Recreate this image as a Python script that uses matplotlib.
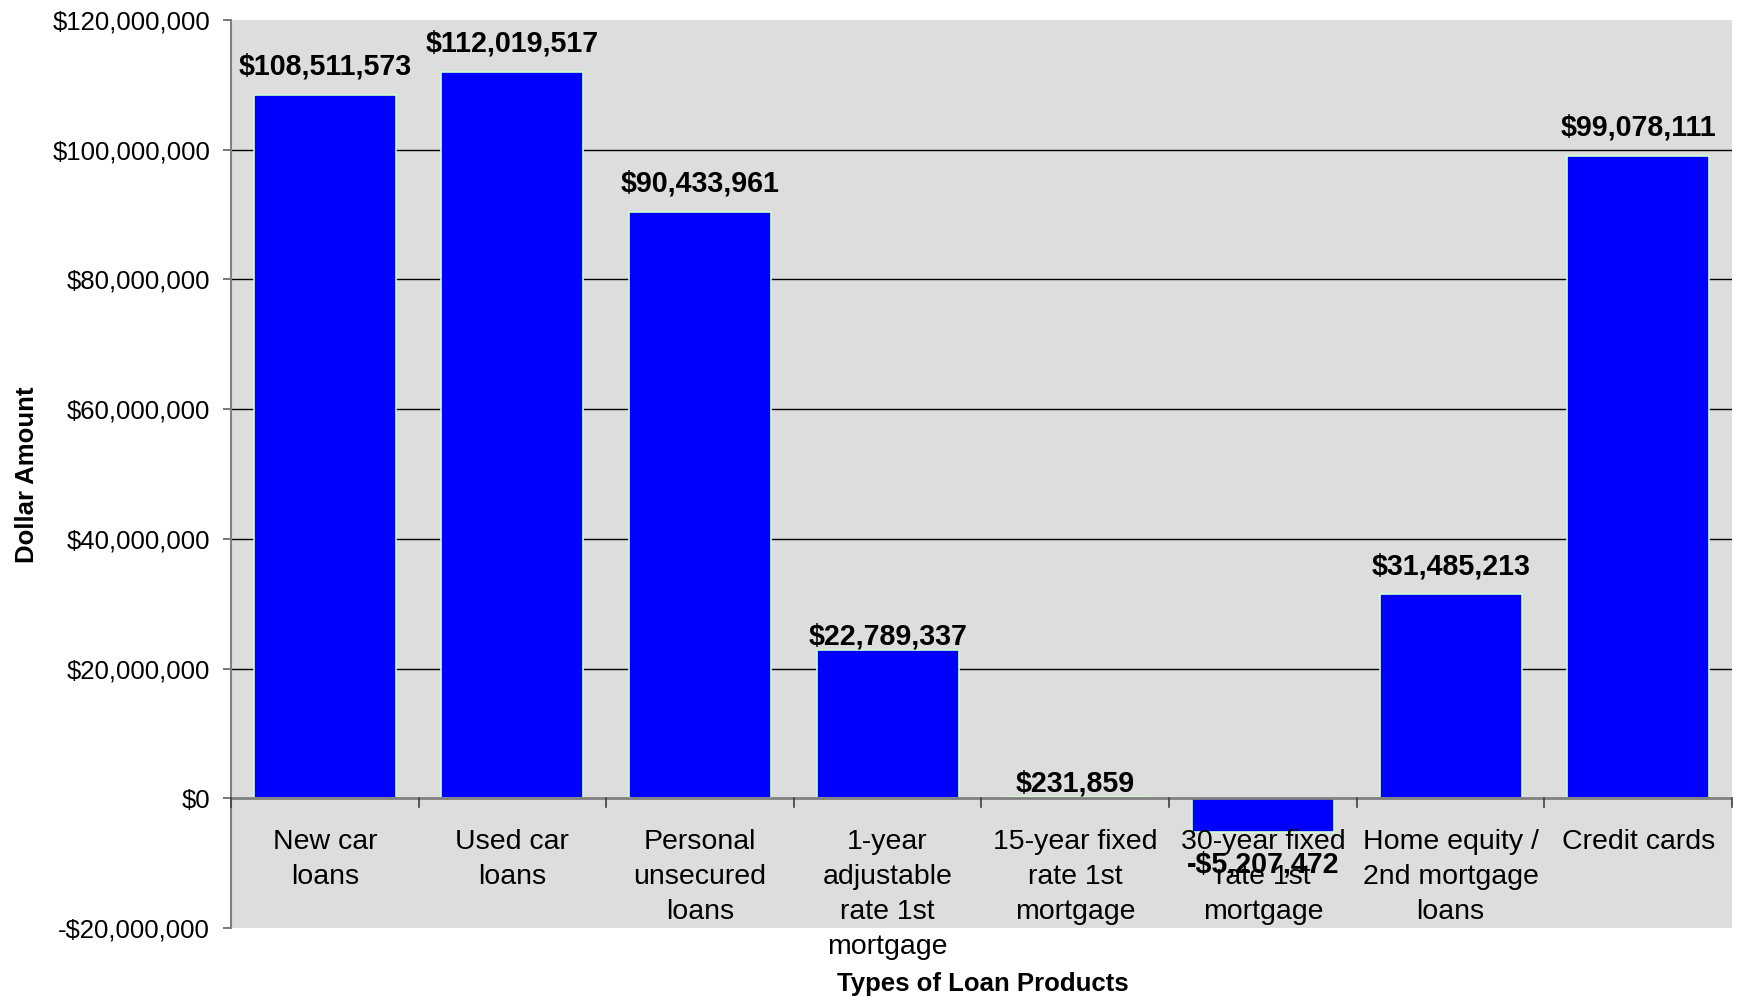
import matplotlib
matplotlib.use('Agg')
import matplotlib.pyplot as plt
from matplotlib.ticker import FuncFormatter, MultipleLocator

plt.rcParams['font.family'] = ['Liberation Sans', 'DejaVu Sans']

# loan products and their dollar amounts
categories = ['New car\nloans', 'Used car\nloans', 'Personal\nunsecured\nloans',
              '1-year\nadjustable\nrate 1st\nmortgage', '15-year fixed\nrate 1st\nmortgage',
              '30-year fixed\nrate 1st\nmortgage', 'Home equity /\n2nd mortgage\nloans',
              'Credit cards']
amounts = [108511573, 112019517, 90433961, 22789337, 231859, -5207472, 31485213, 99078111]

# gap (in pixels) between bar end and its value label
label_gap_px = [20, 20, 20, 6, 5, 20, 20, 20]


def dollars(v, pos=None):
    if v < 0:
        return '-${:,.0f}'.format(-v)
    return '${:,.0f}'.format(v)


fig = plt.figure(figsize=(17.39, 10), dpi=100)
ax = fig.add_axes([0.1328, 0.072, 0.8632, 0.908])
ax.set_facecolor('#dddddd')

x = list(range(len(categories)))
ax.bar(x, amounts, width=0.757, color='#0000ff', edgecolor='#ccffcc', linewidth=1.2, zorder=3)

ax.set_xlim(-0.5, len(categories) - 0.5)
ax.set_ylim(-20000000, 120000000)
ax.yaxis.set_major_locator(MultipleLocator(20000000))
ax.yaxis.set_major_formatter(FuncFormatter(dollars))

# gridlines from 20M to 100M
for g in range(20000000, 120000000, 20000000):
    ax.axhline(g, color='black', linewidth=1, zorder=1)
ax.axhline(0, color='#808080', linewidth=2, zorder=4)

for s in ['top', 'right', 'bottom']:
    ax.spines[s].set_visible(False)
ax.spines['left'].set_color('#808080')
ax.spines['left'].set_linewidth(1.5)

ax.tick_params(axis='y', labelsize=18.5, length=6, width=1.2, color='#606060', pad=9)
ax.set_xticks([])

# category names and small boundary ticks hang off the zero line
for b in range(len(categories) + 1):
    ax.plot([b - 0.5, b - 0.5], [0, -1400000], color='#404040', linewidth=1.2, zorder=5,
            clip_on=False)
for xi, name in zip(x, categories):
    ax.annotate(name, (xi, 0), xytext=(0, -31), textcoords='offset pixels',
                ha='center', va='top', fontsize=20.5, linespacing=1.45,
                annotation_clip=False)

for xi, v, gap in zip(x, amounts, label_gap_px):
    if v >= 0:
        ax.annotate(dollars(v), (xi, v), xytext=(0, gap), textcoords='offset pixels',
                    ha='center', va='baseline', fontsize=20.6, fontweight='bold', zorder=6)
    else:
        ax.annotate(dollars(v), (xi, v), xytext=(0, -gap + 2), textcoords='offset pixels',
                    ha='center', va='top', fontsize=20.6, fontweight='bold', zorder=6)

fig.text(0.0155, 0.525, 'Dollar Amount', rotation=90, ha='center', va='center',
         fontsize=18.5, fontweight='bold')
fig.text(0.565, 0.016, 'Types of Loan Products', ha='center', va='center',
         fontsize=18.5, fontweight='bold')

fig.savefig('out.png', dpi=100)
